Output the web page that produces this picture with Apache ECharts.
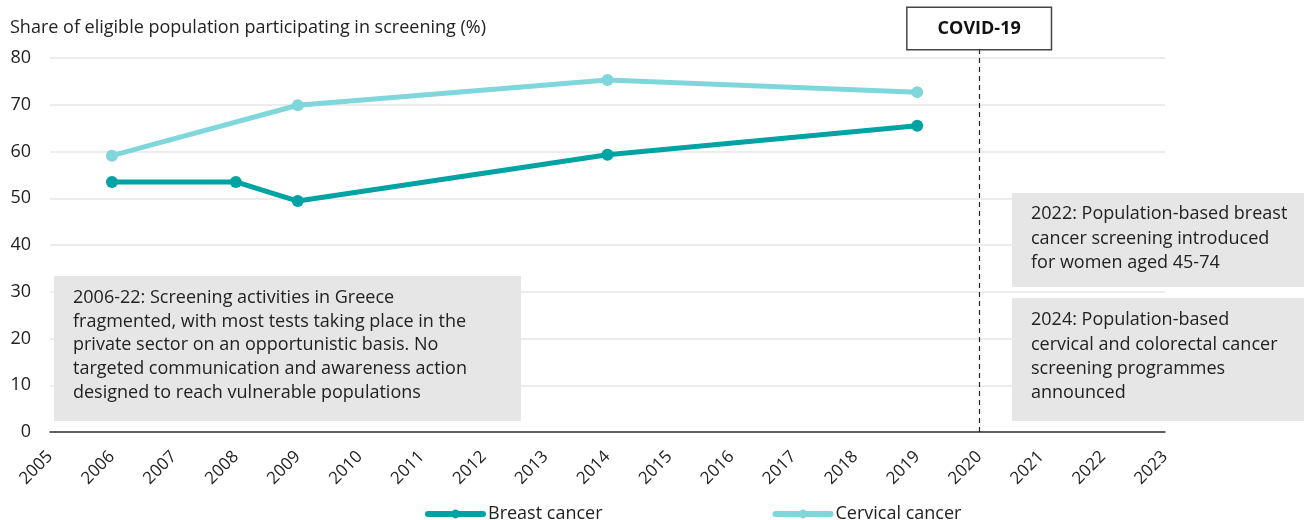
<!DOCTYPE html>
<html>
<head>
<meta charset="utf-8">
<script src="https://cdn.jsdelivr.net/npm/echarts@6/dist/echarts.min.js"></script>
<style>
  html, body { margin: 0; padding: 0; background: #fff; }
  #chart { width: 1304px; height: 520px; }
</style>
</head>
<body>
<div id="chart"></div>
<script>
// Screening participation in Greece, share of eligible population (%)
const breastYears = [2006, 2008, 2009, 2014, 2019];
const breastValues = [53.5, 53.5, 49.4, 59.3, 65.5];
const cervicalYears = [2006, 2009, 2014, 2019];
const cervicalValues = [59.1, 69.9, 75.3, 72.7];
const seriesNames = ['Breast cancer', 'Cervical cancer'];
const covidYear = 2020;
const covidLabel = 'COVID-19';
const yTitle = 'Share of eligible population participating in screening (%)';
const noteLeft = [
  '2006-22: Screening activities in Greece',
  'fragmented, with most tests taking place in the',
  'private sector on an opportunistic basis. No',
  'targeted communication and awareness action',
  'designed to reach vulnerable populations'
];
const noteRightTop = [
  '2022: Population-based breast',
  'cancer screening introduced',
  'for women aged 45-74'
];
const noteRightBottom = [
  '2024: Population-based',
  'cervical and colorectal cancer',
  'screening programmes',
  'announced'
];

const FONT = '"Open Sans", "Noto Sans", sans-serif';
const TEXT = '#222222';
const BREAST = '#00a3a3';
const CERVICAL = '#7fd7dc';

const pairs = (xs, ys) => xs.map((x, i) => [x, ys[i]]);

function noteBox(x, y, w, h, lines, lineHeight, textTop) {
  return {
    type: 'group',
    children: [
      { type: 'rect', z: 100, shape: { x: x, y: y, width: w, height: h }, style: { fill: '#e6e6e6' } },
      {
        type: 'text', z: 101, x: x + 19, y: textTop,
        style: { text: lines.join('\n'), font: '18px ' + FONT, fill: TEXT, lineHeight: lineHeight }
      }
    ]
  };
}

const chart = echarts.init(document.getElementById('chart'), null, { renderer: 'canvas' });

const gridSide = { left: 50, right: 139, bottom: 88 };

chart.setOption({
  animation: false,
  textStyle: { fontFamily: FONT, color: TEXT },
  title: {
    text: yTitle, left: 5, top: 14,
    textStyle: { fontSize: 18, fontWeight: 'normal', color: TEXT, fontFamily: FONT }
  },
  legend: {
    data: seriesNames,
    left: 420, top: 500,
    itemWidth: 55, itemHeight: 11, itemGap: 170,
    lineStyle: { width: 6, cap: 'round' },
    textStyle: { fontSize: 18, color: TEXT, fontFamily: FONT }
  },
  grid: [
    Object.assign({ top: 58 }, gridSide),
    Object.assign({ top: 49 }, gridSide)
  ],
  xAxis: [
    {
      type: 'value', gridIndex: 0, min: 2005, max: 2023, interval: 1,
      axisLine: { show: true, lineStyle: { color: '#333', width: 1.5 } },
      axisTick: { show: false },
      splitLine: { show: false },
      axisLabel: {
        rotate: 45, margin: 22, fontSize: 17, color: TEXT, fontFamily: FONT,
        formatter: v => String(v)
      }
    },
    {
      type: 'value', gridIndex: 1, min: 2005, max: 2023, show: false,
      splitLine: { show: false }
    }
  ],
  yAxis: [
    {
      type: 'value', gridIndex: 0, min: 0, max: 80, interval: 10,
      axisLine: { show: false }, axisTick: { show: false },
      splitLine: { lineStyle: { color: '#e6e6e6', width: 1.5 } },
      axisLabel: { margin: 19, fontSize: 18, color: TEXT, fontFamily: FONT }
    },
    {
      type: 'value', gridIndex: 1, min: 0, max: 1, show: false,
      splitLine: { show: false }
    }
  ],
  series: [
    {
      name: seriesNames[0], type: 'line',
      data: pairs(breastYears, breastValues),
      symbol: 'circle', symbolSize: 12,
      lineStyle: { color: BREAST, width: 5 },
      itemStyle: { color: BREAST },
      z: 3
    },
    {
      name: seriesNames[1], type: 'line',
      data: pairs(cervicalYears, cervicalValues),
      symbol: 'circle', symbolSize: 12,
      lineStyle: { color: CERVICAL, width: 5 },
      itemStyle: { color: CERVICAL },
      z: 2
    },
    {
      // carrier for the COVID-19 marker, drawn on a taller overlay grid
      type: 'line', xAxisIndex: 1, yAxisIndex: 1, data: [],
      markLine: {
        silent: true, symbol: 'none',
        lineStyle: { type: [5, 4], color: '#222', width: 1.2 },
        label: {
          show: true, position: 'end', distance: 0,
          formatter: covidLabel,
          fontFamily: FONT, fontSize: 18, fontWeight: 'bold', color: '#111',
          backgroundColor: '#fff', borderColor: '#444', borderWidth: 1.5,
          padding: [12, 30, 11, 30]
        },
        data: [{ xAxis: covidYear }]
      }
    }
  ],
  graphic: [
    noteBox(54, 276, 467, 145, noteLeft, 23.7, 286),
    noteBox(1012, 193, 292, 94, noteRightTop, 24.5, 202),
    noteBox(1012, 298, 292, 123, noteRightBottom, 24.3, 308)
  ]
});
</script>
</body>
</html>
